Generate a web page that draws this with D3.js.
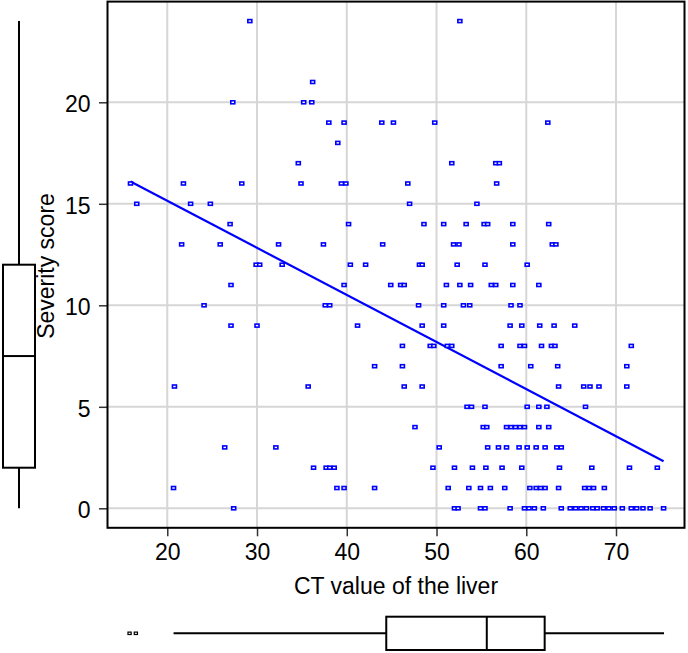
<!DOCTYPE html>
<html><head><meta charset="utf-8">
<script src="https://cdn.jsdelivr.net/npm/d3@7"></script>
<style>
body{margin:0;background:#fff}
svg{display:block}
text{font-family:"Liberation Sans",Arial,sans-serif;fill:#000}
</style>
</head><body>
<svg id="c" width="688" height="653"></svg>
<script>
// ---- data ----
const ctValue = [
  29.2, 52.6,
  36.2,
  27.3, 35.2, 36.1,
  38.0, 39.7, 43.9, 45.2, 49.8, 62.4,
  39.0,
  34.6, 51.7, 56.6, 57.0,
  15.9, 21.8, 28.3, 34.9, 39.4, 39.9, 46.8, 56.7,
  16.6, 22.6, 24.8, 47.0, 54.5,
  27.0, 40.2, 48.6, 50.8, 53.3, 55.3, 55.7, 58.5, 62.5,
  21.6, 25.9, 32.4, 37.4, 44.0, 51.9, 52.5, 58.5, 62.9, 63.3,
  29.9, 30.3, 32.8, 40.4, 42.1, 48.1, 48.4, 52.3, 55.4, 60.1,
  27.1, 39.7, 44.9, 46.0, 46.4, 51.1, 52.6, 53.8, 56.1, 56.6, 58.5, 61.4,
  24.1, 37.6, 38.1, 48.0, 50.8, 53.0, 53.7, 58.3, 59.3,
  27.1, 30.0, 41.2, 48.4, 50.8, 58.2, 59.5, 61.5, 63.1, 65.4,
  46.2, 49.3, 49.7, 51.2, 51.7, 57.2, 59.3, 59.8, 61.7, 62.8, 63.2, 71.7,
  43.1, 46.2, 57.2, 60.5, 63.5, 71.2,
  20.8, 35.7, 46.4, 48.4, 63.6, 66.4, 67.1, 68.1, 71.2,
  53.4, 53.9, 55.4, 60.1, 61.4, 62.3, 66.6,
  47.6, 55.2, 55.6, 57.8, 58.3, 58.8, 59.3, 59.8, 61.4, 62.5,
  26.4, 32.1, 50.3, 55.7, 56.9, 57.8, 59.2, 60.1, 61.1, 62.1, 63.4, 63.9,
  36.3, 37.7, 38.1, 38.6, 49.6, 52.0, 54.0, 55.5, 57.3, 59.5, 63.7, 67.3, 71.5, 74.6,
  20.7, 38.9, 39.7, 43.1, 51.3, 53.6, 54.9, 56.0, 57.6, 60.4, 61.1, 61.6, 62.1, 63.6, 66.5, 67.0, 67.5, 68.7,
  27.4, 52.0, 52.4, 54.9, 55.4, 58.2, 59.8, 60.3, 60.9, 61.9, 63.9, 64.9, 65.5, 66.1, 66.7, 67.4, 67.9, 68.6, 69.2, 69.8, 70.7, 71.7, 72.3, 73.0, 73.8, 75.3
];
const severity = [
  24, 24,
  21,
  20, 20, 20,
  19, 19, 19, 19, 19, 19,
  18,
  17, 17, 17, 17,
  16, 16, 16, 16, 16, 16, 16, 16,
  15, 15, 15, 15, 15,
  14, 14, 14, 14, 14, 14, 14, 14, 14,
  13, 13, 13, 13, 13, 13, 13, 13, 13, 13,
  12, 12, 12, 12, 12, 12, 12, 12, 12, 12,
  11, 11, 11, 11, 11, 11, 11, 11, 11, 11, 11, 11,
  10, 10, 10, 10, 10, 10, 10, 10, 10,
  9, 9, 9, 9, 9, 9, 9, 9, 9, 9,
  8, 8, 8, 8, 8, 8, 8, 8, 8, 8, 8, 8,
  7, 7, 7, 7, 7, 7,
  6, 6, 6, 6, 6, 6, 6, 6, 6,
  5, 5, 5, 5, 5, 5, 5,
  4, 4, 4, 4, 4, 4, 4, 4, 4, 4,
  3, 3, 3, 3, 3, 3, 3, 3, 3, 3, 3, 3,
  2, 2, 2, 2, 2, 2, 2, 2, 2, 2, 2, 2, 2, 2,
  1, 1, 1, 1, 1, 1, 1, 1, 1, 1, 1, 1, 1, 1, 1, 1, 1, 1,
  0, 0, 0, 0, 0, 0, 0, 0, 0, 0, 0, 0, 0, 0, 0, 0, 0, 0, 0, 0, 0, 0, 0, 0, 0, 0
];
const xTicks = [20, 30, 40, 50, 60, 70];
const yTicks = [0, 5, 10, 15, 20];
// fitted line (intercept, slope) as drawn
const regression = [19.79, -0.232];
// boxplot stats: [lower whisker, Q1, median, Q3, upper whisker]
const ctBox = [20.7, 44.4, 55.6, 62.05, 75.35];
const ctOutliers = [15.8, 16.5];
const sevBox = [0, 2, 7.5, 12, 24];
const xTitle = "CT value of the liver";
const yTitle = "Severity score";

// ---- drawing ----
const svg = d3.select("#c");
const L = 107.5, R = 684.5, T = 1.6, B = 527.8;
const x = d3.scaleLinear().domain([13.34, 77.63]).range([L, R]);
const y = d3.scaleLinear().domain([-0.96, 24.96]).range([B, T]);
const FS = 23;

// grid
svg.append("g").selectAll("line").data(xTicks).join("line")
  .attr("x1", d => x(d)).attr("x2", d => x(d)).attr("y1", T).attr("y2", B)
  .attr("stroke", "#d6d6d6").attr("stroke-width", 2);
svg.append("g").selectAll("line").data(yTicks).join("line")
  .attr("y1", d => y(d)).attr("y2", d => y(d)).attr("x1", L).attr("x2", R)
  .attr("stroke", "#d6d6d6").attr("stroke-width", 2);

// axes
const xAxis = svg.append("g").attr("transform", `translate(0,${B})`)
  .call(d3.axisBottom(x).tickValues(xTicks).tickSize(8.5).tickPadding(7.5).tickFormat(d3.format("d")));
xAxis.select(".domain").remove();
xAxis.selectAll("line").attr("stroke", "#333").attr("stroke-width", 1.5);
xAxis.selectAll("text").attr("font-size", FS).attr("font-family", "Liberation Sans, Arial, sans-serif").attr("fill", "#000");

const yAxis = svg.append("g").attr("transform", `translate(${L},0)`)
  .call(d3.axisLeft(y).tickValues(yTicks).tickSize(8.5).tickPadding(8.5).tickFormat(d3.format("d")));
yAxis.select(".domain").remove();
yAxis.selectAll("line").attr("stroke", "#333").attr("stroke-width", 1.5);
yAxis.selectAll("text").attr("font-size", FS).attr("dy", "0.4em").attr("font-family", "Liberation Sans, Arial, sans-serif").attr("fill", "#000");

// regression line
const xExt = d3.extent(ctValue);
svg.append("line")
  .attr("x1", x(xExt[0])).attr("y1", y(regression[0] + regression[1] * xExt[0]))
  .attr("x2", x(xExt[1])).attr("y2", y(regression[0] + regression[1] * xExt[1]))
  .attr("stroke", "#0000ff").attr("stroke-width", 2.2);

// points
svg.append("g").selectAll("rect").data(ctValue.map((v, i) => [v, severity[i]])).join("rect")
  .attr("x", d => x(d[0]) - 2).attr("y", d => y(d[1]) - 1.5)
  .attr("width", 4).attr("height", 3)
  .attr("fill", "#fff").attr("stroke", "#0000ff").attr("stroke-width", 1.6);

// frame
svg.append("rect").attr("x", L).attr("y", T).attr("width", R - L).attr("height", B - T)
  .attr("fill", "none").attr("stroke", "#000").attr("stroke-width", 2);

// titles
svg.append("text").attr("x", (L + R) / 2).attr("y", 594).attr("text-anchor", "middle")
  .attr("font-size", FS).text(xTitle);
svg.append("text").attr("transform", "translate(54,266) rotate(-90)").attr("text-anchor", "middle")
  .attr("font-size", FS).text(yTitle);

// left boxplot (severity)
const lb = svg.append("g").attr("stroke", "#000").attr("stroke-width", 2);
const bx0 = 3, bx1 = 35, bxc = 19;
lb.append("line").attr("x1", bxc).attr("x2", bxc).attr("y1", y(sevBox[0])).attr("y2", y(sevBox[1]));
lb.append("line").attr("x1", bxc).attr("x2", bxc).attr("y1", y(sevBox[3])).attr("y2", y(sevBox[4]));
lb.append("rect").attr("x", bx0).attr("width", bx1 - bx0)
  .attr("y", y(sevBox[3])).attr("height", y(sevBox[1]) - y(sevBox[3])).attr("fill", "#fff");
lb.append("line").attr("x1", bx0).attr("x2", bx1).attr("y1", y(sevBox[2])).attr("y2", y(sevBox[2]));

// bottom boxplot (CT value)
const bb = svg.append("g").attr("stroke", "#000").attr("stroke-width", 2);
const by0 = 616.7, by1 = 650, byc = 633.3;
bb.append("line").attr("y1", byc).attr("y2", byc).attr("x1", x(ctBox[0])).attr("x2", x(ctBox[1]));
bb.append("line").attr("y1", byc).attr("y2", byc).attr("x1", x(ctBox[3])).attr("x2", x(ctBox[4]));
bb.append("rect").attr("y", by0).attr("height", by1 - by0)
  .attr("x", x(ctBox[1])).attr("width", x(ctBox[3]) - x(ctBox[1])).attr("fill", "#fff");
bb.append("line").attr("y1", by0).attr("y2", by1).attr("x1", x(ctBox[2])).attr("x2", x(ctBox[2]));
svg.append("g").selectAll("rect").data(ctOutliers).join("rect")
  .attr("x", d => x(d) - 1.6).attr("y", byc - 1.2).attr("width", 3.2).attr("height", 2.4)
  .attr("fill", "#fff").attr("stroke", "#000").attr("stroke-width", 1.2);
</script>
</body></html>
